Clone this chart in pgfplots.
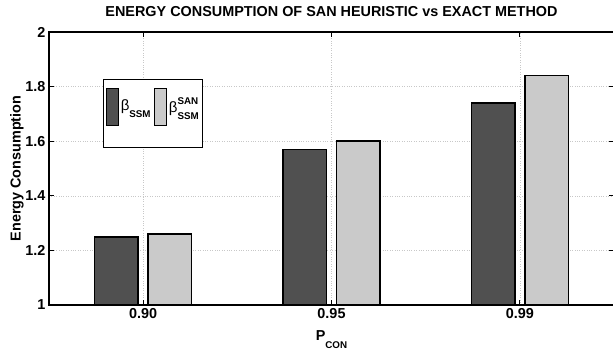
\documentclass[border=0pt]{standalone}
\usepackage{pgfplots}
\pgfplotsset{compat=1.18}
\usepackage{fontspec}
\setmainfont{Liberation Sans}
\definecolor{darkbar}{RGB}{80,80,80}
\definecolor{lightbar}{RGB}{202,202,202}
\definecolor{gridgray}{RGB}{200,200,200}

% bar values: rows are the connectivity levels 0.90, 0.95, 0.99
\pgfplotstableread{
x  exact  san
1  1.25   1.26
2  1.57   1.60
3  1.74   1.84
}\energydata

\newcommand{\lblfont}{\bfseries\fontsize{14.4}{16}\selectfont}
\newcommand{\subfont}{\bfseries\fontsize{9.8}{11}\selectfont}
\newcommand{\betatxt}{{\mdseries β}}

\begin{document}
\begin{tikzpicture}
\begin{axis}[
  scale only axis,
  width=565pt, height=273pt,
  xmin=0.5, xmax=3.5, ymin=1, ymax=2,
  xtick={1,2,3}, xticklabels={0.90,0.95,0.99},
  ytick={1,1.2,1.4,1.6,1.8,2},
  yticklabels={1,1.2,1.4,1.6,1.8,2},
  ybar=10pt, bar width=43.5pt,
  axis line style={line width=1.6pt},
  tick style={black, line width=1.2pt},
  tick align=inside, major tick length=5pt,
  grid=major, grid style={dotted, gridgray, line width=0.5pt},
  tick label style={font=\lblfont},
  /pgf/number format/assume math mode=true,
  title={ENERGY CONSUMPTION OF SAN HEURISTIC vs EXACT METHOD},
  title style={font=\lblfont, at={(rel axis cs:0.5,1)}, anchor=base, yshift=9.5pt},
  xlabel={P\raisebox{-8pt}{\subfont CON}},
  xlabel style={font=\lblfont, at={(rel axis cs:0.5,0)}, anchor=base, yshift=-35pt},
  ylabel={Energy Consumption},
  ylabel style={font=\lblfont, at={(rel axis cs:0,0.5)}, anchor=center, yshift=32pt},
  legend columns=2,
  legend style={at={(rel axis cs:0.0956,0.828)}, anchor=north west,
    draw=black, line width=1pt, fill=white, inner xsep=2pt, inner ysep=3pt,
    font=\bfseries\fontsize{15}{17}\selectfont,
    /tikz/every even column/.append style={column sep=1pt}},
  legend image code/.code={%
    \draw[#1, line width=1pt] (0pt,-17pt) rectangle (12pt,20pt);
    \path (0pt,25pt) (0pt,-36pt);},
]
\addplot[draw=black, line width=1.5pt, fill=darkbar] table[x=x, y=exact] {\energydata};
\addplot[draw=black, line width=1.5pt, fill=lightbar] table[x=x, y=san] {\energydata};
\legend{%
  \raisebox{5pt}{\betatxt\raisebox{-7.3pt}{\subfont SSM}},
  \raisebox{5pt}{\betatxt{\subfont\rlap{\raisebox{7.7pt}{SAN}}\raisebox{-7.3pt}{SSM}}}}
\coordinate (bl) at (rel axis cs:0,0);
\coordinate (tr) at (rel axis cs:1,1);
\end{axis}
\pgfresetboundingbox
\useasboundingbox ([shift={(-49pt,-44pt)}]bl) rectangle ([shift={(-1pt,32pt)}]tr);
\end{tikzpicture}
\end{document}
